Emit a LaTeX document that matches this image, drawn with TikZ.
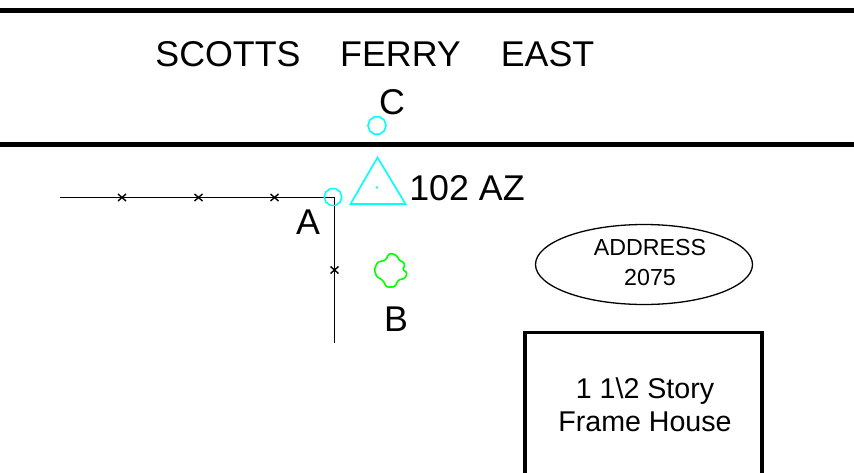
\documentclass[tikz,border=0pt]{standalone}
\usepackage{fontspec}
\usetikzlibrary{shapes.geometric}
\setmainfont{Liberation Sans}
\definecolor{aqua}{RGB}{0,255,255}
\definecolor{leaf}{RGB}{0,255,0}
\tikzset{
  road/.style={line width=5pt,black},
  fence/.style={line width=1.7pt,black},
  tick/.style={line width=1.4pt,black},
  marker/.style={line width=1.6pt,aqua},
  octa/.style={draw=aqua,line width=1.6pt,regular polygon,regular polygon sides=10,inner sep=0pt},
  big/.style={anchor=base,inner sep=0pt,font=\fontsize{35.8}{36}\selectfont},
  mid/.style={anchor=base,inner sep=0pt,font=\fontsize{28.6}{29}\selectfont},
  small/.style={anchor=base,inner sep=0pt,font=\fontsize{23.2}{24}\selectfont}
}
\begin{document}
\begin{tikzpicture}[x=1pt,y=-1pt]
\useasboundingbox (0,0) rectangle (854,473);
\fill[white] (0,0) rectangle (854,473);
% roads
\coordinate (r1a) at (0,10.5); \coordinate (r1b) at (854,10.5);
\coordinate (r2a) at (0,145); \coordinate (r2b) at (854,145);
\draw[road] (r1a) -- (r1b);
\draw[road] (r2a) -- (r2b);
% title
\node[big] (t1) at (228,67) {SCOTTS};
\node[big] (t2) at (400.5,67) {FERRY};
\node[big] (t3) at (547.5,67) {EAST};
\node[big] (lc) at (392,115) {C};
\node[big] (laz) at (467,201) {102 AZ};
\node[big] (la) at (308,235) {A};
\node[big] (lb) at (396,331) {B};
% fence
\coordinate (f0) at (60,197.5);
\coordinate (f1) at (334.5,197.5);
\coordinate (f2) at (334.5,343);
\draw[fence] (f0) -- (f1) -- (f2);
\foreach \px/\py in {122/197.5,198.5/197.5,274.5/197.5,334.5/270}
  \draw[tick] (\px-4,\py-3.5) -- (\px+4,\py+3.5) (\px-4,\py+3.5) -- (\px+4,\py-3.5);
% markers
\node[octa,minimum size=17.5pt] (ma) at (333,197) {};
\node[octa,minimum size=18pt] (mc) at (377,125.5) {};
\draw[marker] (377.5,157.5) -- (350.5,204) -- (405.5,204) -- cycle;
\fill[aqua] (377,187.5) circle[radius=1.3];
% bush
\draw[leaf,line width=1.6pt,line join=round,rounded corners=1.5pt]
  (391.7,253.3) -- (397.3,256) -- (399.3,260.7) -- (403.3,261.7) -- (405,266) -- (402.3,269.3)
  -- (407.3,272.7) -- (405,278.3) -- (398.3,280) -- (395,286.7) -- (386.7,287.3) -- (382.7,280)
  -- (376.7,276.7) -- (374.3,270) -- (377.3,262.3) -- (386,260) -- (388.3,254.3) -- cycle;
% address
\node[draw,ellipse,line width=1.3pt,minimum width=217pt,minimum height=80pt,inner sep=0pt] (addr) at (644,264.5) {};
\node[small] (a1) at (650,255) {ADDRESS};
\node[small] (a2) at (650,285) {2075};
% house
\coordinate (h1) at (525,473); \coordinate (h2) at (525,332.5);
\coordinate (h3) at (762,332.5); \coordinate (h4) at (762,473);
\draw[line width=3.8pt,line join=miter] (h1) -- (h2) -- (h3) -- (h4);
\node[mid] (h5) at (645,398) {1 1\textbackslash 2 Story};
\node[mid] (h6) at (645,431) {Frame House};
\end{tikzpicture}
\end{document}
